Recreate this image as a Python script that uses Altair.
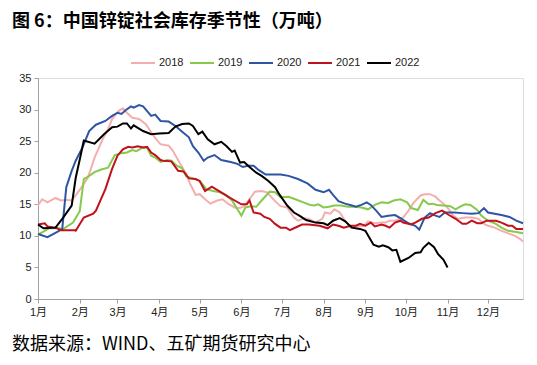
import altair as alt
import pandas as pd

title_text = "图 6：中国锌锭社会库存季节性（万吨）"
source_text = "数据来源：WIND、五矿期货研究中心"

years = ["2018", "2019", "2020", "2021", "2022"]
colors = ["#F4AEAE", "#86C94B", "#2E55A3", "#C0121C", "#000000"]

# day of year (0 = Jan 1) and inventory (10k tonnes)
d2018 = [0, 3, 7, 13, 17, 21, 25, 28, 32, 37, 42, 48, 52, 55, 60, 63, 66, 70, 75, 80, 85, 87, 91, 97, 100, 105, 110, 113, 117, 120,
         124, 128, 133, 137, 141, 146, 150, 153, 157, 161, 166, 170, 176, 180, 185, 190, 193, 198, 202, 206, 211, 213, 217, 220,
         224, 228, 232, 236, 242, 245, 249, 255, 258, 261, 265, 271, 275, 279, 284, 287, 291, 295, 298, 301, 305, 308, 312, 317,
         322, 327, 331, 334, 339, 344, 349, 354, 358, 360]
v2018 = [14.8, 15.8, 15.3, 16.0, 15.6, 15.7, 15.6, 16.4, 17.6, 19.2, 22.4, 25.3, 26.9, 28.5, 29.8, 30.2, 29.5, 28.7, 28.5, 27.7,
         26.1, 25.5, 24.5, 24.3, 23.5, 21.6, 19.8, 18.2, 16.5, 16.6, 15.8, 15.1, 15.6, 15.8, 15.1, 14.5, 14.4, 14.7, 15.8, 17.0,
         17.1, 16.9, 15.5, 14.7, 14.5, 12.9, 12.4, 12.8, 12.6, 12.1, 12.7, 13.7, 13.5, 14.2, 13.7, 12.4, 11.3, 11.5, 11.6, 12.3,
         12.0, 12.1, 12.1, 12.4, 12.4, 12.9, 14.0, 15.3, 16.4, 16.6, 16.6, 16.2, 15.6, 15.1, 14.2, 13.2, 12.7, 12.9, 12.9, 12.7,
         11.9, 11.6, 11.3, 10.8, 10.4, 10.0, 9.5, 9.1]

d2019 = [0, 5, 8, 16, 18, 26, 31, 34, 38, 42, 47, 52, 57, 62, 66, 70, 73, 78, 81, 84, 87, 91, 96, 99, 103, 107, 110, 115, 120,
         125, 130, 135, 140, 144, 148, 151, 154, 158, 162, 166, 172, 176, 180, 186, 191, 197, 202, 205, 208, 212, 216, 220, 225,
         230, 235, 240, 245, 250, 255, 260, 264, 269, 274, 277, 282, 286, 290, 293, 296, 301, 306, 310, 313, 317, 321, 326, 329,
         334, 339, 344, 349, 355, 360]
v2019 = [10.2, 10.8, 11.2, 11.2, 11.0, 12.1, 13.9, 19.0, 19.5, 20.1, 20.5, 20.8, 22.8, 23.1, 23.2, 23.6, 23.4, 24.0, 23.9, 22.7,
         22.4, 21.7, 22.0, 21.9, 21.1, 20.7, 19.4, 19.1, 18.7, 17.4, 17.1, 16.9, 16.4, 15.6, 14.2, 13.2, 14.5, 14.7, 14.6, 15.6,
         17.0, 16.9, 16.1, 16.2, 15.8, 15.3, 14.9, 14.8, 15.0, 14.5, 14.6, 14.8, 14.8, 14.6, 14.6, 14.5, 14.2, 14.9, 15.3, 15.2,
         15.6, 15.8, 15.3, 14.4, 14.1, 15.7, 15.0, 15.1, 14.9, 14.8, 14.7, 14.2, 14.6, 15.0, 14.9, 14.1, 13.2, 12.4, 12.0, 11.3,
         10.8, 10.6, 10.4]

d2020 = [0, 7, 15, 18, 21, 25, 28, 33, 38, 43, 50, 55, 59, 62, 65, 69, 71, 75, 78, 84, 87, 91, 97, 102, 107, 112, 115, 119, 123,
         126, 131, 136, 143, 148, 152, 156, 160, 164, 169, 174, 180, 186, 193, 200, 206, 212, 216, 219, 223, 228, 233, 236, 240,
         244, 247, 251, 255, 260, 265, 269, 275, 280, 283, 287, 291, 295, 298, 302, 309, 315, 322, 327, 331, 334, 339, 344, 350,
         355, 360]
v2020 = [10.3, 9.8, 10.7, 11.1, 17.7, 20.3, 21.9, 24.0, 26.6, 27.6, 28.2, 29.0, 29.5, 29.3, 29.9, 30.5, 30.3, 30.7, 30.5, 29.0,
         29.2, 28.2, 28.1, 27.4, 26.5, 25.6, 24.2, 23.2, 21.9, 22.4, 22.8, 22.0, 21.7, 21.4, 20.9, 21.1, 21.1, 20.4, 19.7, 19.7,
         19.7, 19.5, 19.0, 18.3, 17.3, 16.9, 17.3, 16.5, 15.5, 15.1, 14.8, 14.6, 14.9, 15.3, 14.9, 14.0, 13.0, 13.2, 13.3, 12.8,
         12.0, 11.6, 11.0, 12.9, 13.6, 13.2, 13.0, 13.7, 13.7, 13.6, 13.5, 13.6, 14.4, 13.7, 13.5, 13.3, 13.0, 12.4, 12.0]

d2021 = [0, 5, 7, 13, 17, 27, 28, 34, 41, 43, 50, 55, 59, 63, 67, 70, 74, 78, 81, 84, 87, 91, 93, 99, 104, 108, 112, 117, 120,
         124, 129, 132, 136, 141, 146, 151, 155, 157, 160, 165, 168, 172, 176, 180, 184, 187, 190, 196, 201, 209, 215, 219, 223,
         227, 232, 236, 239, 243, 247, 250, 255, 258, 261, 265, 269, 271, 277, 280, 285, 290, 295, 300, 305, 310, 315, 318, 322,
         326, 329, 333, 340, 344, 349, 352, 355, 360]
v2021 = [11.8, 12.0, 11.5, 11.3, 10.9, 10.9, 10.8, 12.9, 13.5, 14.0, 17.4, 20.6, 22.7, 23.7, 24.1, 24.0, 24.2, 24.0, 24.1, 23.2,
         22.8, 22.0, 21.9, 21.8, 20.3, 20.2, 19.1, 19.0, 18.7, 17.1, 17.8, 17.4, 16.9, 16.2, 15.6, 15.0, 15.0, 15.6, 13.7, 13.5,
         13.0, 12.7, 11.9, 11.3, 11.3, 10.9, 11.2, 11.8, 11.8, 11.6, 11.2, 11.8, 11.6, 11.3, 11.6, 11.6, 11.9, 11.6, 12.1, 11.5,
         11.8, 11.6, 11.3, 12.1, 12.4, 12.1, 11.8, 12.1, 12.7, 12.9, 13.6, 14.0, 13.3, 12.7, 11.9, 11.9, 12.4, 12.0, 12.0, 12.4,
         12.4, 12.1, 11.6, 11.6, 11.1, 11.1]

d2022 = [0, 4, 13, 18, 25, 28, 31, 34, 42, 49, 55, 59, 63, 66, 69, 71, 78, 84, 90, 97, 102, 107, 112, 115, 119, 122, 126, 131,
         136, 140, 144, 146, 150, 153, 157, 162, 166, 171, 176, 179, 185, 190, 194, 199, 206, 212, 215, 219, 224, 228, 233, 239,
         243, 246, 249, 253, 256, 260, 263, 266, 269, 275, 280, 284, 286, 290, 294, 297, 301, 304]
v2022 = [11.8, 11.2, 11.3, 12.7, 14.8, 19.2, 22.1, 25.1, 24.6, 26.1, 27.2, 27.3, 27.8, 27.8, 27.0, 27.5, 26.6, 26.1, 26.2, 26.3,
         27.3, 27.7, 27.8, 27.4, 26.1, 26.5, 25.3, 24.5, 24.9, 24.2, 23.3, 23.5, 21.6, 21.7, 20.9, 20.0, 19.5, 18.7, 17.7, 16.6,
         14.8, 13.7, 13.2, 12.5, 12.1, 12.0, 11.7, 12.4, 12.8, 12.3, 11.3, 11.1, 10.8, 9.7, 8.6, 8.3, 8.5, 8.2, 7.7, 7.8, 5.9,
         6.5, 7.3, 7.4, 8.1, 8.9, 8.2, 7.1, 6.2, 5.0]

series = [("2018", d2018, v2018), ("2019", d2019, v2019), ("2020", d2020, v2020),
          ("2021", d2021, v2021), ("2022", d2022, v2022)]

base = pd.Timestamp("2021-01-01")
rows = []
for yr, ds, vs in series:
    for d, v in zip(ds, vs):
        rows.append({"year": yr, "date": base + pd.Timedelta(days=d), "value": v})
df = pd.DataFrame(rows)

FONT = "Liberation Sans, Noto Sans CJK SC"
CJK = "Noto Sans CJK SC"

month_ticks = [alt.DateTime(year=2021, month=m, date=1) for m in range(1, 13)]

lines = alt.Chart(df).mark_line(strokeWidth=2).encode(
    x=alt.X("date:T",
            scale=alt.Scale(domain=[alt.DateTime(year=2021, month=1, date=1),
                                    alt.DateTime(year=2021, month=12, date=27)]),
            axis=alt.Axis(values=month_ticks, format="%-m月", title=None, grid=False,
                          domainColor="#A0A0A0", tickColor="#A0A0A0", tickSize=4,
                          labelFont=FONT, labelFontSize=11, labelColor="#222222",
                          labelPadding=3, labelAngle=0, labelFlush=False)),
    y=alt.Y("value:Q",
            scale=alt.Scale(domain=[0, 35], nice=False, zero=True),
            axis=alt.Axis(values=[0, 5, 10, 15, 20, 25, 30, 35], title=None, grid=False,
                          domainColor="#A0A0A0", tickColor="#A0A0A0", tickSize=4,
                          labelFont=FONT, labelFontSize=11, labelColor="#222222",
                          labelPadding=3)),
    color=alt.Color("year:N",
                    scale=alt.Scale(domain=years, range=colors),
                    legend=alt.Legend(title=None, orient="none", direction="horizontal",
                                      legendX=92, legendY=-28,
                                      symbolType="stroke", symbolSize=576, symbolStrokeWidth=2,
                                      labelFont=FONT, labelFontSize=11, labelColor="#222222",
                                      columnPadding=2, labelOffset=3)),
    detail="year:N",
)

title_layer = alt.Chart(pd.DataFrame({"t": [title_text]})).mark_text(
    align="left", baseline="middle", font=CJK, fontSize=18, fontWeight="bold", color="#000000"
).encode(text="t:N", x=alt.value(-26), y=alt.value(-56))

source_layer = alt.Chart(pd.DataFrame({"t": [source_text]})).mark_text(
    align="left", baseline="middle", font=CJK, fontSize=18, color="#000000"
).encode(text="t:N", x=alt.value(-26), y=alt.value(267))

chart = alt.layer(lines, title_layer, source_layer).properties(
    width=485, height=221,
    autosize=alt.AutoSizeParams(type="none"),
    padding={"left": 30, "top": 70, "right": 6, "bottom": 58},
).configure_view(stroke=None).configure(background="white")

chart.save("out.html", embed_options={"renderer": "svg", "actions": False})
